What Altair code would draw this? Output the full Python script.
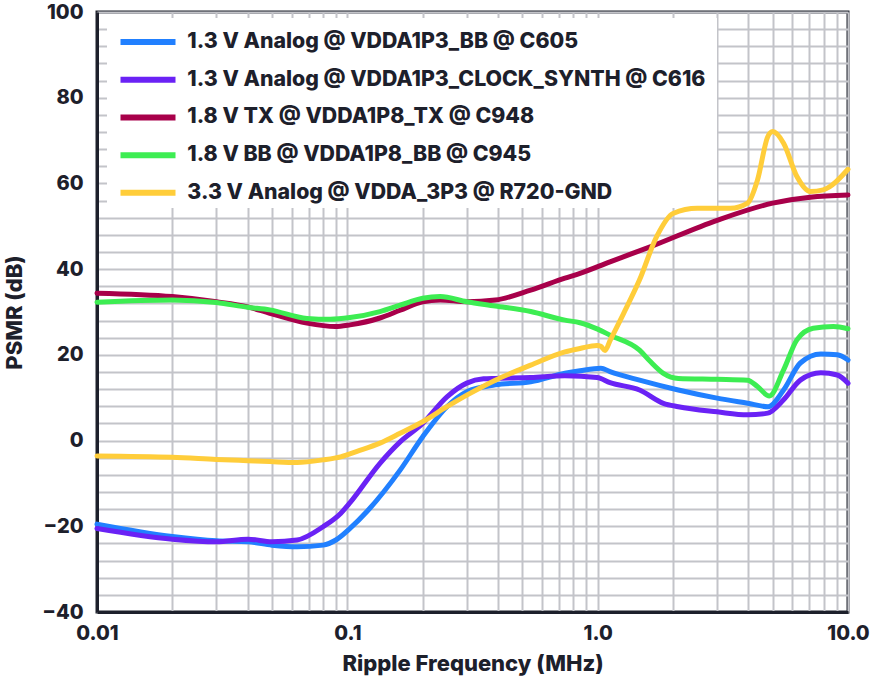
import altair as alt
import pandas as pd

# ---- data ----
series_names = [
    "1.3 V Analog @ VDDA1P3_BB @ C605",
    "1.3 V Analog @ VDDA1P3_CLOCK_SYNTH @ C616",
    "1.8 V TX @ VDDA1P8_TX @ C948",
    "1.8 V BB @ VDDA1P8_BB @ C945",
    "3.3 V Analog @ VDDA_3P3 @ R720-GND",
]
series_colors = ["#2180ff", "#6a22f5", "#a8004a", "#3ded52", "#ffcd3a"]

bb13_f = [0.01, 0.02, 0.03, 0.04, 0.05, 0.063, 0.08, 0.09, 0.1025, 0.12, 0.1625, 0.2, 0.25, 0.3,
          0.39, 0.54, 0.74, 0.85, 1.03, 1.12, 1.47, 2.1, 3.0, 3.97, 4.8, 5.53, 6.45, 7.79, 9.06, 10.0]
bb13_v = [-19.5, -22.4, -23.4, -23.6, -24.4, -24.8, -24.4, -23.2, -20.5, -16.5, -6.9, 0.9, 7.9, 11.4,
          13.0, 13.7, 15.7, 16.3, 16.9, 16.1, 14.1, 11.8, 9.9, 8.7, 7.9, 11.8, 18.1, 20.2, 20.0, 18.8]

clk_f = [0.01, 0.02, 0.03, 0.04, 0.05, 0.063, 0.08, 0.094, 0.1025, 0.135, 0.1625, 0.2, 0.25, 0.3,
         0.35, 0.39, 0.54, 0.74, 0.995, 1.12, 1.47, 1.83, 2.1, 3.0, 3.97, 4.78, 5.53, 6.45, 7.79, 9.06, 10.0]
clk_v = [-20.5, -23.0, -23.6, -23.0, -23.6, -23.2, -20.1, -17.0, -14.5, -5.3, -0.3, 4.0, 10.2, 13.4,
         14.4, 14.5, 14.7, 15.1, 14.7, 13.5, 11.8, 8.7, 7.9, 6.7, 6.0, 6.4, 9.5, 14.1, 15.8, 15.3, 13.4]

tx_f = [0.01, 0.02, 0.03, 0.04, 0.049, 0.069, 0.0895, 0.1025, 0.135, 0.1625, 0.2, 0.235, 0.3, 0.39,
        0.54, 0.74, 0.85, 1.12, 1.62, 3.0, 5.0, 7.07, 10.0]
tx_v = [34.4, 33.6, 32.4, 31.2, 29.7, 27.4, 26.6, 27.0, 28.6, 30.4, 32.4, 32.8, 32.4, 32.8,
        35.1, 37.9, 39.0, 41.7, 45.2, 51.4, 55.4, 56.8, 57.3]

bb18_f = [0.01, 0.02, 0.03, 0.04, 0.049, 0.069, 0.0855, 0.1025, 0.135, 0.1625, 0.2, 0.235, 0.3, 0.39,
          0.54, 0.74, 0.85, 1.0, 1.12, 1.47, 1.62, 1.83, 2.1, 3.0, 3.97, 4.35, 4.85, 5.53, 6.25, 7.26,
          8.75, 10.0]
bb18_v = [32.3, 32.8, 32.2, 31.1, 30.5, 28.5, 28.3, 28.7, 30.1, 31.6, 33.2, 33.6, 32.4, 31.4,
          30.1, 28.1, 27.5, 26.0, 24.6, 21.1, 18.5, 15.7, 14.5, 14.3, 14.1, 12.6, 10.4, 16.5, 23.5, 26.2,
          26.6, 26.1]

a33_f = [0.01, 0.02, 0.03, 0.04, 0.049, 0.063, 0.08, 0.094, 0.1093, 0.135, 0.1625, 0.2, 0.25, 0.3,
         0.39, 0.54, 0.74, 0.85, 0.995, 1.03, 1.07, 1.124, 1.27, 1.47, 1.72, 2.0, 2.5, 3.39, 3.97,
         4.35, 4.78, 5.0, 5.53, 6.25, 7.07, 7.96, 10.0]
a33_v = [-3.6, -3.9, -4.4, -4.7, -4.9, -5.1, -4.5, -3.8, -2.5, -0.6, 1.7, 4.4, 7.9, 10.6,
         14.1, 17.6, 20.7, 21.5, 22.2, 22.0, 21.0, 23.5, 29.7, 37.5, 47.6, 53.0, 54.2, 54.2, 55.4,
         60.8, 70.9, 72.1, 69.4, 61.6, 58.1, 58.5, 63.3]

x_grid_values = [m * d for d in (0.01, 0.1, 1.0) for m in range(1, 10)] + [10.0]
y_grid_values = list(range(-40, 101, 4))

rows = []
for k, (fs, vs) in enumerate([(bb13_f, bb13_v), (clk_f, clk_v), (tx_f, tx_v), (bb18_f, bb18_v), (a33_f, a33_v)]):
    for f, v in zip(fs, vs):
        rows.append({"series": series_names[k], "order": k, "freq": f, "psmr": v})
df = pd.DataFrame(rows)

FONT = "Inter"
WEIGHT = 800
DARK = "#1d202b"
GRID = "#c3c4c9"

x_axis = alt.Axis(
    values=x_grid_values,
    labelExpr="datum.value == 0.01 ? '0.01' : datum.value == 0.1 ? '0.1' : datum.value == 1 ? '1.0' : datum.value == 10 ? '10.0' : ''",
    title="Ripple Frequency (MHz)",
    grid=True, ticks=False, tickSize=0, labelPadding=11, labelOverlap=False, labelFlush=False,
    labelFontSize=20, labelFont=FONT, labelFontWeight=WEIGHT, labelColor=DARK,
    titleFontSize=22, titleFont=FONT, titleFontWeight=WEIGHT, titleColor=DARK,
    titleY=51, titleBaseline="middle",
    domainColor=DARK, domainWidth=3, gridColor=GRID, gridWidth=2,
)
y_axis = alt.Axis(
    values=y_grid_values,
    labelExpr="datum.value % 20 == 0 ? (datum.value < 0 ? '\u2212' + abs(datum.value) : '' + datum.value) : ''",
    title="PSMR (dB)",
    grid=True, ticks=False, tickSize=0, labelPadding=14, labelOverlap=False,
    labelFontSize=20, labelFont=FONT, labelFontWeight=WEIGHT, labelColor=DARK,
    titleFontSize=22, titleFont=FONT, titleFontWeight=WEIGHT, titleColor=DARK,
    titleX=-83, titleY=300, titleAngle=270, titleAlign="center", titleBaseline="middle",
    domainColor=DARK, domainWidth=3, gridColor=GRID, gridWidth=2,
)

legend = alt.Legend(
    orient="none", legendX=23, legendY=19.4, title=None,
    symbolType="M-5,0H5", symbolSize=121, symbolStrokeWidth=6, symbolOffset=17.35,
    labelOffset=28.7, labelFontSize=21.3, labelFont=FONT, labelFontWeight=WEIGHT, labelColor=DARK,
    rowPadding=12.7, padding=0, labelLimit=900,
)

panel = alt.Chart(alt.Data(values=[{}])).mark_rect(color="white").encode(
    x=alt.value(10), x2=alt.value(620), y=alt.value(6), y2=alt.value(196)
)

lines = alt.Chart(df).mark_line(strokeWidth=5, interpolate="monotone", strokeCap="round", strokeJoin="round").encode(
    x=alt.X("freq:Q", scale=alt.Scale(type="log", domain=[0.01, 10], nice=False), axis=x_axis),
    y=alt.Y("psmr:Q", scale=alt.Scale(domain=[-40, 100], nice=False), axis=y_axis),
    color=alt.Color("series:N", scale=alt.Scale(domain=series_names, range=series_colors), legend=legend),
    detail="order:O",
)

chart = alt.layer(panel, lines).properties(
    width=751, height=600,
    padding={"left": 97, "top": 12, "right": 23, "bottom": 66},
    autosize=alt.AutoSizeParams(type="none"),
    background="white",
).configure_view(stroke=DARK, strokeWidth=3)

chart.save("out.html", embed_options={"renderer": "svg", "actions": False})
